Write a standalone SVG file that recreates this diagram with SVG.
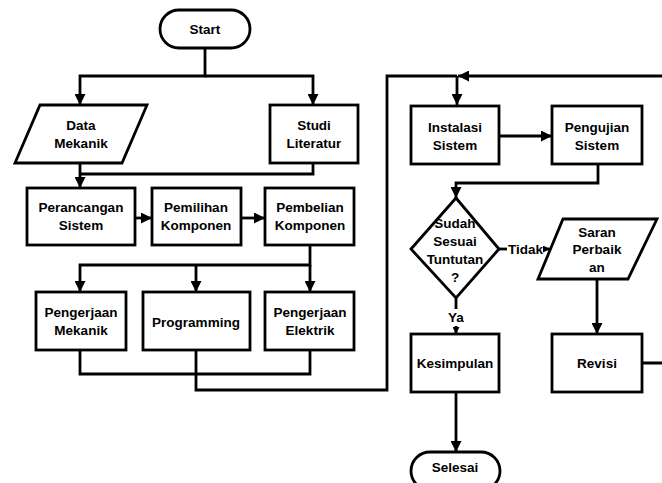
<svg xmlns="http://www.w3.org/2000/svg" width="662" height="483" viewBox="0 0 662 483">
<style>
.s{fill:#fff;stroke:#000;stroke-width:2.8}
.c{fill:none;stroke:#000;stroke-width:2.8}
text{font-family:"Liberation Sans",Arial,sans-serif;font-weight:bold;font-size:13.5px;fill:#000;text-anchor:middle}
</style>
<defs>
<marker id="a" viewBox="0 0 10 10" refX="10" refY="5" markerWidth="11" markerHeight="11" markerUnits="userSpaceOnUse" orient="auto"><path d="M0,0 L10,5 L0,10 z" fill="#000"/></marker>
<marker id="b" viewBox="0 0 10 10" refX="10" refY="5" markerWidth="7" markerHeight="7" markerUnits="userSpaceOnUse" orient="auto"><path d="M0,0 L10,5 L0,10 z" fill="#000"/></marker>
</defs>
<rect width="662" height="483" fill="#fff"/>
<g id="connectors">
<path class="c" d="M205,48 V76 H80 V105" marker-end="url(#a)"/>
<path class="c" d="M205,76 H313 V105" marker-end="url(#a)"/>
<path class="c" d="M80,163 V188" marker-end="url(#a)"/>
<path class="c" d="M313,163 V174 H80"/>
<path class="c" d="M135,218 H152" marker-end="url(#a)"/>
<path class="c" d="M241,218 H265" marker-end="url(#a)"/>
<path class="c" d="M310,245 V265 H80 V292" marker-end="url(#a)"/>
<path class="c" d="M196,265 V292" marker-end="url(#a)"/>
<path class="c" d="M310,265 V292" marker-end="url(#a)"/>
<path class="c" d="M80,350 V374 H310 V350"/>
<path class="c" d="M196,350 V390 H387 V76 H457"/>
<path class="c" d="M457,76 V105" marker-end="url(#a)"/>
<path class="c" d="M642,363 H668 V76 H458" marker-end="url(#a)"/>
<path class="c" d="M499,136 H552" marker-end="url(#a)"/>
<path class="c" d="M598,164 V183 H456 V198" marker-end="url(#a)"/>
<path class="c" d="M499,249 H507"/>
<path class="c" d="M543,249 H550" marker-end="url(#b)"/>
<path class="c" d="M456,298 V309"/>
<path class="c" d="M456,326 V334" marker-end="url(#b)"/>
<path class="c" d="M597,279 V334" marker-end="url(#a)"/>
<path class="c" d="M456,392 V452" marker-end="url(#a)"/>
<text x="508" y="254" style="text-anchor:start">Tidak</text>
<text x="456" y="322">Ya</text>
</g>
<g id="start"><rect class="s" x="160" y="10" width="90" height="38" rx="19"/><text x="205" y="34">Start</text></g>
<g id="data-mekanik"><polygon class="s" points="40,105 147,105 122,163 15,163"/><text x="81" y="130">Data</text><text x="81" y="148">Mekanik</text></g>
<g id="studi-literatur"><rect class="s" x="270" y="105" width="88" height="58"/><text x="314" y="130">Studi</text><text x="314" y="148">Literatur</text></g>
<g id="perancangan"><rect class="s" x="27" y="188" width="108" height="57"/><text x="81" y="212">Perancangan</text><text x="81" y="230">Sistem</text></g>
<g id="pemilihan"><rect class="s" x="152" y="188" width="89" height="57"/><text x="196" y="212">Pemilihan</text><text x="196" y="230">Komponen</text></g>
<g id="pembelian"><rect class="s" x="265" y="188" width="89" height="57"/><text x="310" y="212">Pembelian</text><text x="310" y="230">Komponen</text></g>
<g id="peng-mekanik"><rect class="s" x="36" y="292" width="90" height="58"/><text x="81" y="317">Pengerjaan</text><text x="81" y="335">Mekanik</text></g>
<g id="programming"><rect class="s" x="143" y="292" width="107" height="58"/><text x="196" y="327">Programming</text></g>
<g id="peng-elektrik"><rect class="s" x="265" y="292" width="89" height="58"/><text x="310" y="317">Pengerjaan</text><text x="310" y="335">Elektrik</text></g>
<g id="instalasi"><rect class="s" x="411" y="106" width="88" height="58"/><text x="455" y="132">Instalasi</text><text x="455" y="150">Sistem</text></g>
<g id="pengujian"><rect class="s" x="552" y="106" width="90" height="58"/><text x="597" y="132">Pengujian</text><text x="597" y="150">Sistem</text></g>
<g id="keputusan"><polygon class="s" points="456,198 499,249 456,298 411,249"/><text x="455" y="228">Sudah</text><text x="455" y="246">Sesuai</text><text x="455" y="264">Tuntutan</text><text x="455" y="282">?</text></g>
<g id="saran"><polygon class="s" points="563,219 657,219 628,279 538,279"/><text x="597" y="237">Saran</text><text x="597" y="254">Perbaik</text><text x="597" y="272">an</text></g>
<g id="kesimpulan"><rect class="s" x="411" y="334" width="88" height="58"/><text x="455" y="368">Kesimpulan</text></g>
<g id="revisi"><rect class="s" x="552" y="334" width="90" height="58"/><text x="597" y="368">Revisi</text></g>
<g id="selesai"><rect class="s" x="411" y="452" width="89" height="38" rx="19"/><text x="455" y="472">Selesai</text></g>
</svg>
